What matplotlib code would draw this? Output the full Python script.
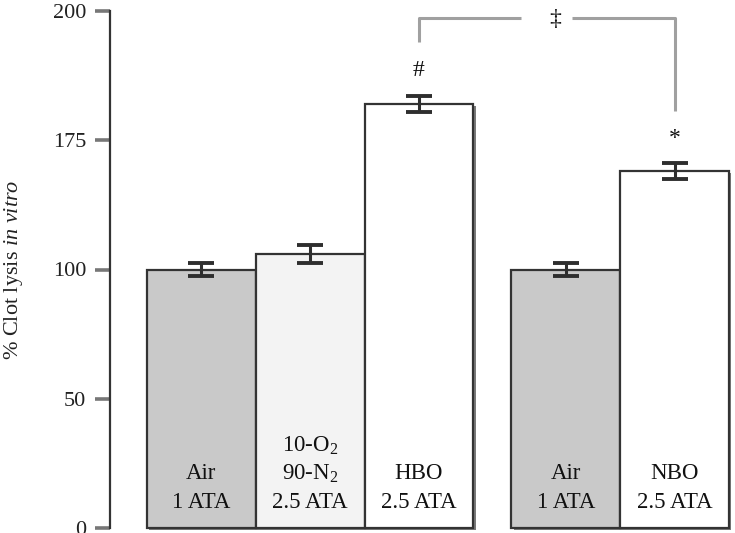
import numpy as np
import matplotlib
matplotlib.use("Agg")
import matplotlib.pyplot as plt
import matplotlib.patheffects as pe

plt.rcParams['font.family'] = ['Liberation Serif', 'DejaVu Serif']
plt.rcParams['mathtext.fontset'] = 'custom'
plt.rcParams['mathtext.rm'] = 'Liberation Serif'
plt.rcParams['mathtext.it'] = 'Liberation Serif:italic'

# ---- data ----
bar_labels = [["Air", "1 ATA"],
              ["10-O$_2$", "90-N$_2$", "2.5 ATA"],
              ["HBO", "2.5 ATA"],
              ["Air", "1 ATA"],
              ["NBO", "2.5 ATA"]]
values = [100, 109, 182, 100, 157]
err_low = [2.5, 5.3, 1.6, 2.5, 4.7]
err_high = [3.8, 5.3, 1.6, 3.8, 4.7]
bar_x = [0, 1, 2, 3.35, 4.35]
fills = ['#c9c9c9', '#f3f3f3', '#ffffff', '#c9c9c9', '#ffffff']
y_ticks = [0, 50, 100, 175, 200]
sig_marks = ['', '', '#', '', '*']

# axis with equally spaced ticks (piecewise-linear scale)
tick_pos = np.arange(len(y_ticks), dtype=float)
def fwd(v):
    return np.interp(v, y_ticks, tick_pos)
def inv(v):
    return np.interp(v, tick_pos, y_ticks)

fig = plt.figure(figsize=(7.35, 5.33), dpi=100)
ax = fig.add_axes([110/735, 5/533, 625/735, 517/533])
ax.set_yscale('function', functions=(fwd, inv))
ax.set_ylim(0, 200)
ax.set_xlim(-0.84, 4.905)

shadow = [pe.SimplePatchShadow(offset=(1.6, -1.6), shadow_rgbFace='#7a7a7a', alpha=1.0), pe.Normal()]
for x, v, f in zip(bar_x, values, fills):
    b = ax.bar(x, v, width=1.0, color=f, edgecolor='#333333', linewidth=1.6, zorder=2)
    for p in b.patches:
        p.set_path_effects(shadow)
        p.set_clip_on(False)

ax.errorbar(bar_x, values, yerr=[err_low, err_high], fmt='none', ecolor='#2e2e2e',
            elinewidth=2.2, capsize=9.5, capthick=2.8, zorder=3)

# labels inside bars
for x, lines in zip(bar_x, bar_labels):
    n = len(lines)
    for i, line in enumerate(lines):
        off = 18.5 + 20.5 * (n - 1 - i)
        ax.annotate(line, xy=(x, 0), xytext=(0, off), textcoords='offset points',
                    ha='center', va='center', fontsize=16.5, color='#111111', zorder=4)

# significance marks
for x, v, e, m in zip(bar_x, values, err_high, sig_marks):
    if m:
        ax.annotate(m, xy=(x, v + e), xytext=(0, 18), textcoords='offset points',
                    ha='center', va='center', fontsize=17, color='#111111')

# bracket between HBO and NBO
bcol = '#a0a0a0'
ax.plot([bar_x[2], bar_x[2], 2.94], [194, 198.6, 198.6], color=bcol, lw=2.2, solid_capstyle='butt')
ax.plot([3.41, bar_x[4], bar_x[4]], [198.6, 198.6, 180.6], color=bcol, lw=2.2, solid_capstyle='butt')
ax.text(3.25, 198.3, '\u2021', ha='center', va='center', fontsize=17, color='#111111')

# axes styling
for s in ['top', 'right', 'bottom']:
    ax.spines[s].set_visible(False)
ax.spines['left'].set_color('#333333')
ax.spines['left'].set_linewidth(1.6)
ax.set_xticks([])
ax.set_yticks(y_ticks)
ax.set_yticklabels([str(t) for t in y_ticks])
ax.tick_params(axis='y', length=11, width=2.6, color='#777777', pad=6,
               labelsize=16, labelcolor='#222222')
ax.set_ylabel('% Clot lysis $\\mathit{in\\ vitro}$', fontsize=16, color='#222222', va='center')
ax.yaxis.set_label_coords(-0.155, 0.5)

fig.savefig('out.png', dpi=100)
